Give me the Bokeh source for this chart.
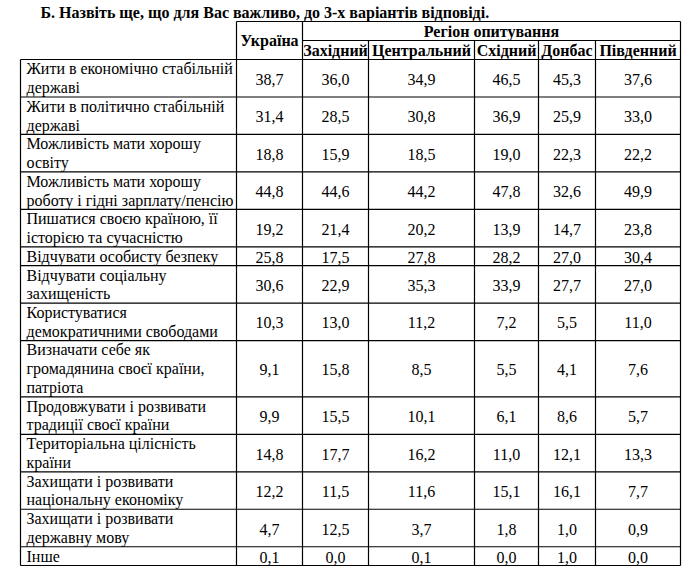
from bokeh.plotting import figure
from bokeh.models import Range1d
from bokeh.core.properties import value
from bokeh.embed import file_html
from bokeh.resources import INLINE

# ---------------- data ----------------
title = "Б. Назвіть ще, що для Вас важливо, до 3-х варіантів відповіді."
region_title = "Регіон опитування"
col_ukraine = "Україна"
regions = ["Західний", "Центральний", "Східний", "Донбас", "Південний"]
items = [
    "Жити в економічно стабільній\nдержаві",
    "Жити в політично стабільній\nдержаві",
    "Можливість мати хорошу\nосвіту",
    "Можливість мати хорошу\nроботу і гідні зарплату/пенсію",
    "Пишатися своєю країною, її\nісторією та сучасністю",
    "Відчувати особисту безпеку",
    "Відчувати соціальну\nзахищеність",
    "Користуватися\nдемократичними свободами",
    "Визначати себе як\nгромадянина своєї країни,\nпатріота",
    "Продовжувати і розвивати\nтрадиції своєї країни",
    "Територіальна цілісність\nкраїни",
    "Захищати і розвивати\nнаціональну економіку",
    "Захищати і розвивати\nдержавну мову",
    "Інше",
]
ukraine = [38.7, 31.4, 18.8, 44.8, 19.2, 25.8, 30.6, 10.3, 9.1, 9.9, 14.8, 12.2, 4.7, 0.1]
zakhidnyi = [36.0, 28.5, 15.9, 44.6, 21.4, 17.5, 22.9, 13.0, 15.8, 15.5, 17.7, 11.5, 12.5, 0.0]
tsentralnyi = [34.9, 30.8, 18.5, 44.2, 20.2, 27.8, 35.3, 11.2, 8.5, 10.1, 16.2, 11.6, 3.7, 0.1]
skhidnyi = [46.5, 36.9, 19.0, 47.8, 13.9, 28.2, 33.9, 7.2, 5.5, 6.1, 11.0, 15.1, 1.8, 0.0]
donbas = [45.3, 25.9, 22.3, 32.6, 14.7, 27.0, 27.7, 5.5, 4.1, 8.6, 12.1, 16.1, 1.0, 1.0]
pivdennyi = [37.6, 33.0, 22.2, 49.9, 23.8, 30.4, 27.0, 11.0, 7.6, 5.7, 13.3, 7.7, 0.9, 0.0]

columns = [ukraine, zakhidnyi, tsentralnyi, skhidnyi, donbas, pivdennyi]

# ---------------- layout ----------------
FONT = value("'Liberation Serif', 'Times New Roman', serif")
col_edges = [20, 236, 302, 368, 474, 538, 595, 680]
header_top, header_split, header_bottom = 21, 40, 59
line_h = 18.74
label_x = 26

row_lines = [len(s.split("\n")) for s in items]
row_edges = [header_bottom]
for n in row_lines:
    row_edges.append(row_edges[-1] + n * line_h)
table_bottom = row_edges[-1]

p = figure(width=684, height=571, x_range=Range1d(0, 684), y_range=Range1d(571, 0),
           toolbar_location=None, output_backend="svg", min_border=0)
p.axis.visible = False
p.grid.visible = False
p.outline_line_color = None
p.background_fill_color = "white"
p.border_fill_color = "white"

# ---- grid lines ----
x0s, y0s, x1s, y1s = [], [], [], []
def seg(a, b, c, d):
    x0s.append(a); y0s.append(b); x1s.append(c); y1s.append(d)

seg(col_edges[1], header_top, col_edges[-1], header_top)
seg(col_edges[2], header_split, col_edges[-1], header_split)
for y in row_edges:
    seg(col_edges[0], y, col_edges[-1], y)
seg(col_edges[0], header_bottom, col_edges[0], table_bottom)
for i in (1, 2):
    seg(col_edges[i], header_top, col_edges[i], table_bottom)
for i in range(3, len(col_edges) - 1):
    seg(col_edges[i], header_split, col_edges[i], table_bottom)
seg(col_edges[-1], header_top, col_edges[-1], table_bottom)
p.segment(x0s, y0s, x1s, y1s, line_color="black", line_width=1.2)

# ---- title ----
p.text([40], [12], text=[title], text_font=FONT, text_font_style="bold",
       text_font_size="16px", text_baseline="middle", text_align="left", text_color="black")

# ---- headers ----
hx = [(col_edges[1] + col_edges[2]) / 2, (col_edges[2] + col_edges[-1]) / 2]
hy = [(header_top + header_bottom) / 2, (header_top + header_split) / 2]
p.text(hx, hy, text=[col_ukraine, region_title], text_font=FONT, text_font_style="bold",
       text_font_size="16px", text_baseline="middle", text_align="center", text_color="black")
rx = [(col_edges[i] + col_edges[i + 1]) / 2 for i in range(2, len(col_edges) - 1)]
ry = [(header_split + header_bottom) / 2] * len(regions)
p.text(rx, ry, text=regions, text_font=FONT, text_font_style="bold",
       text_font_size="16px", text_baseline="middle", text_align="center", text_color="black")

# ---- row labels ----
lx, ly, lt = [], [], []
for r, s in enumerate(items):
    lines = s.split("\n")
    top = row_edges[r]
    for k, ln in enumerate(lines):
        lx.append(label_x)
        ly.append(top + (k + 0.5) * line_h)
        lt.append(ln)
p.text(lx, ly, text=lt, text_font=FONT, text_font_size="16px",
       text_baseline="middle", text_align="left", text_color="black")

# ---- values ----
vx, vy, vt = [], [], []
for c, vals in enumerate(columns):
    cx = (col_edges[c + 1] + col_edges[c + 2]) / 2
    for r, v in enumerate(vals):
        vx.append(cx)
        vy.append((row_edges[r] + row_edges[r + 1]) / 2 + 1)
        vt.append(f"{v:.1f}".replace(".", ","))
p.text(vx, vy, text=vt, text_font=FONT, text_font_size="16px",
       text_baseline="middle", text_align="center", text_color="black")

open("out.html", "w").write(file_html(p, INLINE))
